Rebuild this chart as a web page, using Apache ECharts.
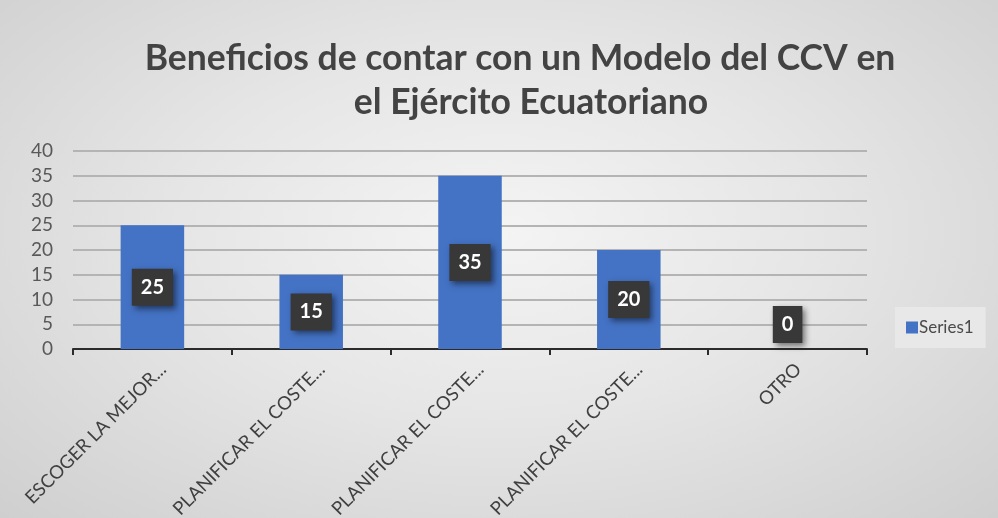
<!DOCTYPE html>
<html>
<head>
<meta charset="utf-8">
<script src="https://cdn.jsdelivr.net/npm/echarts@6/dist/echarts.min.js"></script>
<style>
    html, body { margin: 0; padding: 0; }
    #chart {
        width: 998px;
        height: 518px;
        background: radial-gradient(ellipse at 50% 45%, #f4f4f4 0%, #e6e6e6 45%, #cfcfcf 100%);
    }
</style>
</head>
<body>
<div id="chart"></div>
<script>
// data
let titleLines = ['Beneficios de contar con un Modelo del CCV en', 'el Ejército Ecuatoriano'];
let categories = ['ESCOGER LA MEJOR...', 'PLANIFICAR EL COSTE...', 'PLANIFICAR EL COSTE...', 'PLANIFICAR EL COSTE...', 'OTRO'];
let values = [25, 15, 35, 20, 0];
let seriesName = 'Series1';

let chart = echarts.init(document.getElementById('chart'));

let baseLabel = {
    show: true,
    position: 'inside',
    color: '#fff',
    fontFamily: 'Lato',
    fontWeight: 'bold',
    fontSize: 20,
    backgroundColor: '#383838',
    padding: [9, 9, 8, 9],
    shadowColor: 'rgba(0, 0, 0, 0.5)',
    shadowBlur: 6,
    shadowOffsetX: 3,
    shadowOffsetY: 3
};

// a zero bar has no height, so its label sits just above the axis
let data = values.map(v => v === 0
    ? {value: v, label: {position: 'top', distance: 6}}
    : v);

// each title line is centred a little differently in the picture
let titleCenters = [515, 526];
let titles = titleLines.map((line, i) => ({
    text: line,
    left: titleCenters[i],
    top: 36 + i * 44,
    textAlign: 'center',
    textStyle: {
        fontFamily: 'Lato',
        fontWeight: 'bold',
        fontSize: 35.5,
        color: '#434343'
    }
}));

chart.setOption({
    animation: false,
    backgroundColor: 'transparent',
    title: titles,
    legend: {
        data: [seriesName],
        orient: 'vertical',
        left: 895,
        top: 307,
        padding: [12, 12, 12, 11],
        backgroundColor: '#e8e8e8',
        itemWidth: 12,
        itemHeight: 12,
        itemGap: 4,
        icon: 'rect',
        textStyle: {
            fontFamily: 'Lato',
            fontSize: 17,
            color: '#4a4a4a',
            padding: [0, 0, 0, -4]
        }
    },
    grid: {
        left: 73,
        right: 131,
        top: 151,
        bottom: 169,
        outerBoundsMode: 'none'
    },
    xAxis: {
        type: 'category',
        data: categories,
        axisLine: {lineStyle: {color: '#2b2b2b', width: 2}},
        axisTick: {show: true, length: 6, lineStyle: {color: '#2b2b2b', width: 2}},
        axisLabel: {
            rotate: 45,
            interval: 0,
            margin: 28,
            // pull the rotated text a bit past the tick, as in the picture
            padding: [0, -15, 0, 0],
            fontFamily: 'Lato',
            fontSize: 18.5,
            color: '#404040'
        }
    },
    yAxis: {
        type: 'value',
        min: 0,
        max: 40,
        interval: 5,
        axisLine: {show: false},
        axisTick: {show: false},
        axisLabel: {
            margin: 20,
            fontFamily: 'Lato',
            fontSize: 19,
            color: '#595959'
        },
        splitLine: {lineStyle: {color: '#b4b4b4', width: 2}}
    },
    series: [{
        name: seriesName,
        type: 'bar',
        data: data,
        barWidth: '40%',
        itemStyle: {color: '#4472c4'},
        label: baseLabel
    }]
});
</script>
</body>
</html>
